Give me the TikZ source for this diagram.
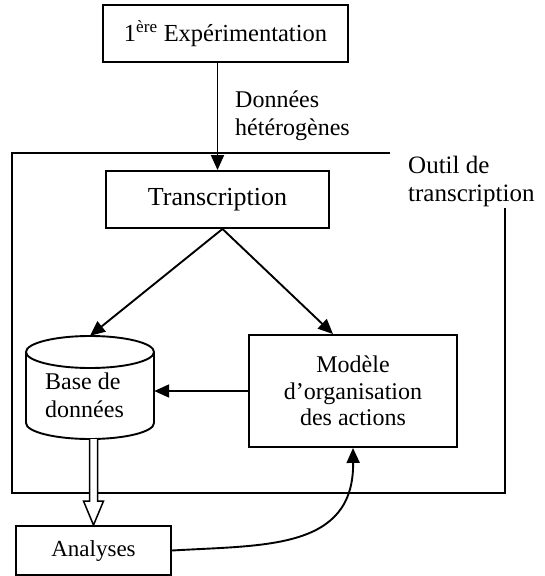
\documentclass[tikz,border=0pt]{standalone}
\usepackage{fontspec}
\setmainfont{Liberation Serif}
\usetikzlibrary{arrows.meta,calc}
\begin{document}
\begin{tikzpicture}[x=1pt,y=-1pt,
  box/.style={draw, line width=1.9pt, inner sep=0pt, align=center},
  conn/.style={line width=1.9pt, -{Triangle[length=15pt,width=13pt]}},
  fs/.style={font=\fontsize{#1}{28}\selectfont},
  lbl/.style={anchor=west, inner sep=0pt, align=left}]
\useasboundingbox (0,0) rectangle (544,576);
% frame
\draw[line width=1.9pt] (390,153) -- (12,153) -- (12,493) -- (505,493) -- (505,208);
% nodes
\node[box, minimum width=245pt, minimum height=57pt, fs=24.5] (exp) at (225.5,33.5) {1\textsuperscript{ère} Expérimentation};
\node[box, minimum width=223pt, minimum height=57pt, fs=26] (trans) at (217.5,199.5) {Transcription};
\node[box, minimum width=208pt, minimum height=112pt, font=\fontsize{24}{26.5}\selectfont] (mod) at (353,391) {Modèle\\d’organisation\\des actions};
\node[box, minimum width=155pt, minimum height=49pt, fs=23] (ana) at (93.5,550.5) {Analyses};
\node[inner sep=0pt, minimum width=128pt, minimum height=103pt] (db) at (90,387.5) {};
% cylinder
\draw[line width=1.9pt] (26,352) -- (26,423) arc[start angle=180, end angle=360, x radius=64pt, y radius=16pt] -- (154,352);
\draw[line width=1.9pt] (90,352) ellipse [x radius=64pt, y radius=16pt];
% texts
\node[lbl, fs=24] (dbtext) at (45,394.8) {Base de\\données};
\node[lbl, fs=24] (het) at (235,115.4) {Données\\hétérogènes};
\node[lbl, fs=25] (tool) at (408,181.2) {Outil de\\transcription};
% connectors
\draw[conn] (exp.south -| trans.north) -- (trans.north);
\coordinate (split) at ([xshift=5pt]trans.south);
\draw[conn] (split) -- (db.north);
\draw[conn] (split) -- ([xshift=-20pt]mod.north);
\draw[conn] (mod.west) -- (mod.west -| db.east);
\draw[conn] (ana.east) .. controls (265,545) and (354,550) .. (mod.south);
% hollow arrow
\coordinate (hs) at (db.south -| ana.north);
\coordinate (he) at (ana.north);
\draw[line width=1.5pt, fill=white, line join=miter] ($(hs)+(-4,0)$) -- ($(he)+(-4,-24)$) -- ($(he)+(-10,-24)$) -- (he) -- ($(he)+(10,-24)$) -- ($(he)+(4,-24)$) -- ($(hs)+(4,0)$);
\end{tikzpicture}
\end{document}
